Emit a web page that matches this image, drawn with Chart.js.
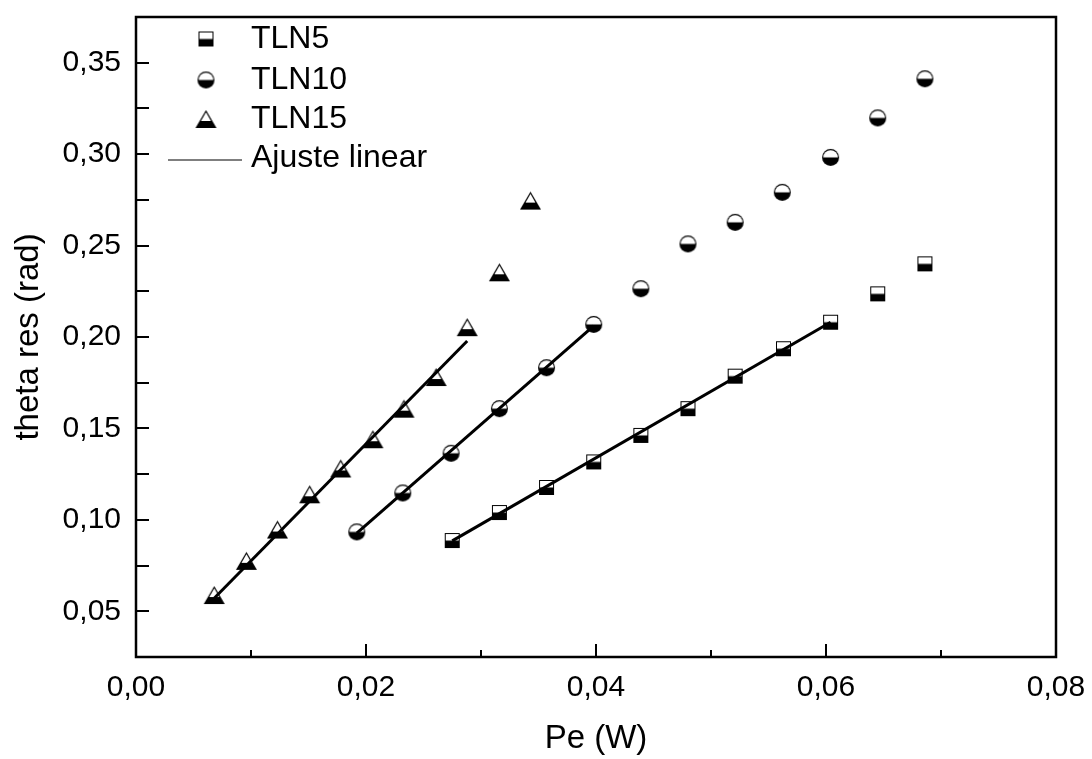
<!DOCTYPE html>
<html>
<head>
<meta charset="utf-8">
<script src="https://cdn.jsdelivr.net/npm/chart.js@4.4.0/dist/chart.umd.min.js"></script>
<style>
  html, body { margin: 0; padding: 0; background: #fff; }
</style>
</head>
<body>
<canvas id="chart" width="1092" height="759"></canvas>
<script>
// measured points, Pe (W) vs theta res (rad)
const tln5X = [0.0275, 0.0316, 0.0357, 0.0398, 0.0439, 0.0480, 0.0521, 0.0563, 0.0604, 0.0645, 0.0686];
const tln5Y = [0.0887, 0.1040, 0.1177, 0.1317, 0.1462, 0.1608, 0.1786, 0.1936, 0.2081, 0.2236, 0.2400];

const tln10X = [0.0192, 0.0232, 0.0274, 0.0316, 0.0357, 0.0398, 0.0439, 0.0480, 0.0521, 0.0562, 0.0604, 0.0645, 0.0686];
const tln10Y = [0.0934, 0.1147, 0.1364, 0.1608, 0.1832, 0.2069, 0.2264, 0.2509, 0.2627, 0.2791, 0.2982, 0.3198, 0.3412];

const tln15X = [0.0068, 0.0096, 0.0123, 0.0151, 0.0178, 0.0206, 0.0233, 0.0261, 0.0288, 0.0316, 0.0343];
const tln15Y = [0.0589, 0.0776, 0.0947, 0.1140, 0.1281, 0.1441, 0.1608, 0.1781, 0.2054, 0.2354, 0.2746];

// linear fits (end points)
const fit5X = [0.0275, 0.0604];
const fit5Y = [0.0885, 0.2081];
const fit10X = [0.0192, 0.0398];
const fit10Y = [0.0928, 0.2061];
const fit15X = [0.0068, 0.0288];
const fit15Y = [0.0571, 0.1978];

const seriesLabels = ["TLN5", "TLN10", "TLN15"];
const fitLabel = "Ajuste linear";

const xMin = 0, xMax = 0.08;
const yMin = 0.025, yMax = 0.375;

const FONT = "'Liberation Sans', Arial, Helvetica, sans-serif";

function pts(xs, ys) {
  return xs.map((x, i) => ({ x: x, y: ys[i] }));
}

// half filled markers: white top, black bottom
function makeMarker(shape) {
  const c = document.createElement("canvas");
  const g = c.getContext("2d");
  if (shape === "square") {
    c.width = 17; c.height = 17;
    g.fillStyle = "#000";
    g.fillRect(1, 1, 15, 15);
    g.fillStyle = "#fff";
    g.fillRect(2, 2, 13, 6.5);
  } else if (shape === "circle") {
    c.width = 19; c.height = 19;
    g.fillStyle = "#000";
    g.beginPath(); g.arc(9.5, 9.5, 8.5, 0, Math.PI * 2); g.fill();
    g.save();
    g.beginPath(); g.rect(0, 0, 19, 9.5); g.clip();
    g.fillStyle = "#fff";
    g.beginPath(); g.arc(9.5, 9.5, 7.3, 0, Math.PI * 2); g.fill();
    g.restore();
  } else {
    c.width = 23; c.height = 20;
    g.fillStyle = "#000";
    g.beginPath(); g.moveTo(11.5, 1); g.lineTo(22, 19); g.lineTo(1, 19); g.closePath(); g.fill();
    g.save();
    g.beginPath(); g.rect(0, 0, 23, 12); g.clip();
    g.fillStyle = "#fff";
    g.beginPath(); g.moveTo(11.5, 3.3); g.lineTo(19.8, 17.8); g.lineTo(3.2, 17.8); g.closePath(); g.fill();
    g.restore();
  }
  return c;
}

const squareMark = makeMarker("square");
const circleMark = makeMarker("circle");
const triMark = makeMarker("triangle");

function markerSet(label, data, img) {
  return {
    label: label,
    data: data,
    showLine: false,
    pointStyle: img,
    pointRadius: 9,
    pointHoverRadius: 9,
    order: 2,
  };
}

function fitSet(data) {
  return {
    label: fitLabel,
    data: data,
    showLine: true,
    borderColor: "#000",
    borderWidth: 3,
    pointRadius: 0,
    pointHoverRadius: 0,
    fill: false,
    order: 1,
  };
}

function fmt(v, d) {
  return v.toFixed(d).replace(".", ",");
}

// frame, inward ticks and the legend inside the plot
const framePlugin = {
  id: "frame",
  afterDraw(chart) {
    const ctx = chart.ctx;
    const a = chart.chartArea;
    const xs = chart.scales.x;
    const ys = chart.scales.y;
    ctx.save();
    ctx.strokeStyle = "#000";
    ctx.lineWidth = 2;
    ctx.beginPath();
    for (let i = 0; i <= 8; i++) {
      const px = Math.round(xs.getPixelForValue(i * 0.01));
      const len = i % 2 === 0 ? 13 : 7;
      ctx.moveTo(px, a.bottom);
      ctx.lineTo(px, a.bottom - len);
    }
    for (let i = 0; i <= 14; i++) {
      const py = Math.round(ys.getPixelForValue(yMin + i * 0.025));
      ctx.moveTo(a.left, py);
      ctx.lineTo(a.left + 13, py);
    }
    ctx.stroke();
    ctx.lineWidth = 2.5;
    ctx.strokeRect(a.left, a.top, a.right - a.left, a.bottom - a.top);

    // legend
    const marks = [squareMark, circleMark, triMark];
    const rowY = [39, 80, 119, 158];
    ctx.font = "32px " + FONT;
    ctx.fillStyle = "#000";
    ctx.textBaseline = "middle";
    seriesLabels.forEach((lab, i) => {
      const m = marks[i];
      ctx.drawImage(m, 206 - m.width / 2, rowY[i] - m.height / 2);
      ctx.fillText(lab, 251, rowY[i]);
    });
    ctx.strokeStyle = "#555";
    ctx.lineWidth = 1.5;
    ctx.beginPath();
    ctx.moveTo(168, rowY[3] + 2);
    ctx.lineTo(242, rowY[3] + 2);
    ctx.stroke();
    ctx.fillText(fitLabel, 251, rowY[3]);
    ctx.restore();
  },
};

const ctx = document.getElementById("chart").getContext("2d");
const chart = new Chart(ctx, {
  type: "scatter",
  data: {
    datasets: [
      markerSet(seriesLabels[0], pts(tln5X, tln5Y), squareMark),
      markerSet(seriesLabels[1], pts(tln10X, tln10Y), circleMark),
      markerSet(seriesLabels[2], pts(tln15X, tln15Y), triMark),
      fitSet(pts(fit5X, fit5Y)),
      fitSet(pts(fit10X, fit10Y)),
      fitSet(pts(fit15X, fit15Y)),
    ],
  },
  options: {
    responsive: false,
    animation: false,
    events: [],
    layout: { padding: { top: 17, right: 36, left: 0, bottom: 0 } },
    plugins: {
      legend: { display: false },
      tooltip: { enabled: false },
    },
    scales: {
      x: {
        type: "linear",
        min: xMin,
        max: xMax,
        afterFit: (s) => { s.height = 102; s.paddingLeft = 0; s.paddingRight = 0; },
        grid: { display: false, drawTicks: false },
        border: { display: false },
        ticks: {
          stepSize: 0.01,
          padding: 13,
          color: "#000",
          font: { family: FONT, size: 30 },
          maxRotation: 0,
          autoSkip: false,
          callback: (v) => (Math.round(v * 100) % 2 === 0 ? fmt(v, 2) : ""),
        },
        title: {
          display: true,
          text: "Pe (W)",
          color: "#000",
          font: { family: FONT, size: 33 },
          padding: { top: 0, bottom: 0 },
        },
      },
      y: {
        type: "linear",
        min: yMin,
        max: yMax,
        afterFit: (s) => { s.width = 136; s.paddingTop = 0; s.paddingBottom = 0; },
        grid: { display: false, drawTicks: false },
        border: { display: false },
        ticks: {
          stepSize: 0.025,
          padding: 15,
          color: "#000",
          font: { family: FONT, size: 30 },
          autoSkip: false,
          callback: (v) => (Math.round(v * 1000) % 50 === 0 ? fmt(v, 2) : ""),
        },
        title: {
          display: true,
          text: "theta res (rad)",
          color: "#000",
          font: { family: FONT, size: 33 },
          padding: { top: 9, bottom: 0 },
        },
      },
    },
  },
  plugins: [framePlugin],
});
</script>
</body>
</html>
